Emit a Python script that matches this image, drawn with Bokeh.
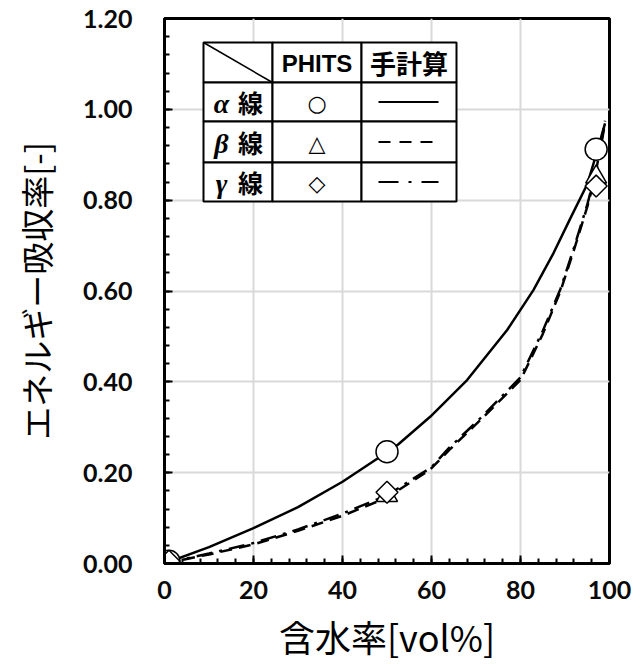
import numpy as np
from bokeh.plotting import figure
from bokeh.models import (Range1d, FixedTicker, NumeralTickFormatter, Label,
                          Arrow, BoxAnnotation)
from bokeh.embed import file_html
from bokeh.resources import INLINE

# ---------------- data ----------------
x_ticks = [0, 20, 40, 60, 80, 100]
y_ticks = [0.0, 0.2, 0.4, 0.6, 0.8, 1.0, 1.2]

phits_x = [1, 50, 97]
alpha_phits = [0.005, 0.246, 0.912]
beta_phits = [0.000, 0.150, 0.851]
gamma_phits = [0.005, 0.157, 0.831]

alpha_calc_x = [0, 10, 20, 30, 40, 50, 52.5, 59.7, 68, 77, 82.9, 87.4, 91.2, 95, 97, 99]
alpha_calc = [0.0, 0.036, 0.078, 0.124, 0.180, 0.245, 0.262, 0.323, 0.404, 0.514,
              0.602, 0.683, 0.760, 0.835, 0.900, 0.969]
beta_calc_x = [0, 10, 20, 30, 40, 50, 59.7, 64, 71, 80, 85, 89, 92, 95, 97, 99]
beta_calc = [0.0, 0.020, 0.042, 0.072, 0.105, 0.145, 0.207, 0.250, 0.316, 0.404,
             0.505, 0.600, 0.690, 0.785, 0.860, 0.970]
gamma_calc_x = [0, 10, 20, 30, 40, 50, 60, 64, 71, 80, 85, 89, 92, 95, 97, 99]
gamma_calc = [0.0, 0.022, 0.045, 0.075, 0.110, 0.150, 0.212, 0.255, 0.320, 0.410,
              0.512, 0.605, 0.695, 0.790, 0.865, 0.975]

x_title = "含水率[vol%]"
y_title = "エネルギー吸収率[-]"
col_heads = ["PHITS", "手計算"]
row_greek = ["α", "β", "γ"]
row_suffix = "線"
row_symbols = ["○", "△", "◇"]

# ---------------- layout ----------------
L, T, W, H = 164, 18, 445, 546
B = T + H

def fx(cx):
    return cx - L

def fy(cy):
    return B - cy

p = figure(width=640, height=664, x_range=Range1d(0, 100), y_range=Range1d(0, 1.2),
           output_backend="svg", toolbar_location=None,
           min_border_left=L, min_border_right=640 - L - W,
           min_border_top=T, min_border_bottom=664 - B)
p.background_fill_color = "white"
p.border_fill_color = "white"
p.outline_line_color = "black"
p.outline_line_width = 3
p.outline_line_alpha = 1

p.xaxis.ticker = FixedTicker(ticks=x_ticks, minor_ticks=list(range(0, 101, 4)))
p.yaxis.ticker = FixedTicker(ticks=y_ticks, minor_ticks=[round(i * 0.04, 2) for i in range(31)])
p.xaxis.formatter = NumeralTickFormatter(format="0")
p.yaxis.formatter = NumeralTickFormatter(format="0.00")

for ax in (p.xaxis[0], p.yaxis[0]):
    ax.axis_line_width = 3
    ax.axis_line_color = "black"
    ax.major_tick_in = 8
    ax.major_tick_out = 0
    ax.minor_tick_in = 5
    ax.minor_tick_out = 0
    ax.major_tick_line_width = 2
    ax.minor_tick_line_width = 2
    ax.major_tick_line_color = "black"
    ax.minor_tick_line_color = "black"
    ax.major_label_text_font = "Lato"
    ax.major_label_text_font_style = "bold"
    ax.major_label_text_font_size = "25px"
    ax.major_label_text_color = "#0a0a0a"
    ax.axis_label_text_font = "Noto Sans CJK JP"
    ax.axis_label_text_font_style = "normal"
    ax.axis_label_text_color = "black"

p.xaxis.major_label_standoff = 17
p.yaxis.major_label_standoff = 32
p.xaxis.axis_label = x_title
p.yaxis.axis_label = y_title
p.xaxis.axis_label_text_font_size = "36px"
p.yaxis.axis_label_text_font_size = "33px"
p.xaxis.axis_label_standoff = 8
p.yaxis.axis_label_standoff = 20

p.xgrid.ticker = FixedTicker(ticks=x_ticks)
p.ygrid.ticker = FixedTicker(ticks=y_ticks)
p.grid.grid_line_color = "#d9d9d9"
p.grid.grid_line_width = 2

# ---------------- curves ----------------
p.line(alpha_calc_x, alpha_calc, line_color="black", line_width=2.5)
p.line(beta_calc_x, beta_calc, line_color="black", line_width=2.5, line_dash="12 7")
p.line(gamma_calc_x, gamma_calc, line_color="black", line_width=2.5, line_dash="16 7 3 7")

p.scatter(phits_x, alpha_phits, marker="circle", size=22, fill_color="white",
          line_color="black", line_width=1.5)
p.scatter(phits_x, beta_phits, marker="triangle", size=21, fill_color="white",
          line_color="black", line_width=1.5)
p.scatter(phits_x, gamma_phits, marker="square", angle=np.pi / 4, size=15.5,
          fill_color="white", line_color="black", line_width=1.5)

# ---------------- legend table (screen units) ----------------
cols = [203, 272, 361, 456]
rows = [43, 83, 122, 163, 202]
for i in range(3):
    for j in range(4):
        p.add_layout(BoxAnnotation(left=fx(cols[i]), right=fx(cols[i + 1]),
                                   top=fy(rows[j]), bottom=fy(rows[j + 1]),
                                   left_units="screen", right_units="screen",
                                   top_units="screen", bottom_units="screen",
                                   fill_color="white", fill_alpha=1,
                                   line_color="black", line_alpha=1, line_width=2,
                                   level="annotation"))

p.add_layout(Arrow(start=None, end=None, x_start=fx(cols[0]), y_start=fy(rows[0]),
                   x_end=fx(cols[1]), y_end=fy(rows[1]),
                   start_units="screen", end_units="screen",
                   line_color="black", line_width=1.5))

def label(cx, cy, text, font, size, style="bold", align="center"):
    p.add_layout(Label(x=fx(cx), y=fy(cy), x_units="screen", y_units="screen",
                       text=text, text_font=font, text_font_size=size,
                       text_font_style=style, text_align=align,
                       text_baseline="middle", text_color="black"))

hy = (rows[0] + rows[1]) / 2
label((cols[1] + cols[2]) / 2, hy + 1, col_heads[0], "Liberation Sans", "24px")
label((cols[2] + cols[3]) / 2, hy, col_heads[1], "Noto Sans CJK JP", "26px")

dashes = [None, "12 9", "20 10 3 10"]
for k in range(3):
    cy = (rows[k + 1] + rows[k + 2]) / 2
    label(221, cy + 1, row_greek[k], "Liberation Serif", "28px", style="bold italic")
    label(250, cy, row_suffix, "Noto Sans CJK JP", "25px")
    label((cols[1] + cols[2]) / 2, cy + 1, row_symbols[k], "DejaVu Sans", "22px")
    kw = dict(start=None, end=None, x_start=fx(378), y_start=fy(cy), x_end=fx(438),
              y_end=fy(cy), start_units="screen", end_units="screen",
              line_color="black", line_width=2.2)
    if dashes[k]:
        kw["line_dash"] = dashes[k]
    p.add_layout(Arrow(**kw))

open("out.html", "w").write(file_html(p, INLINE))
